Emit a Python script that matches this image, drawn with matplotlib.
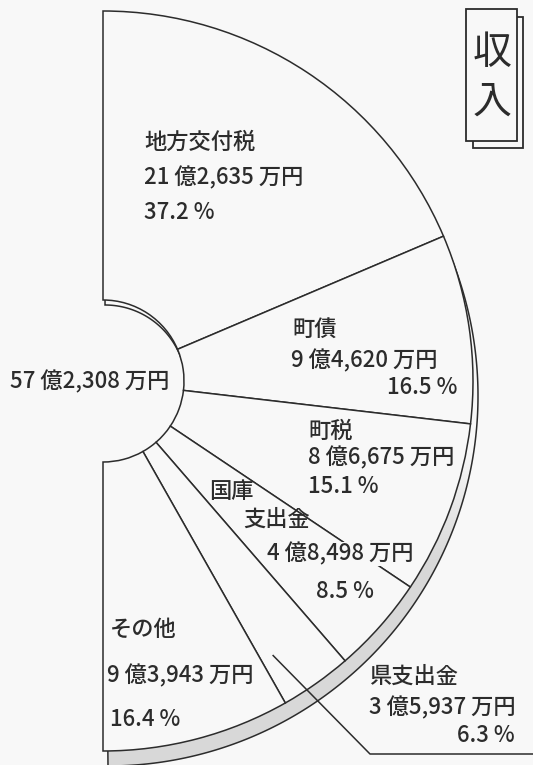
import numpy as np
import matplotlib.pyplot as plt
from matplotlib.patches import Wedge, Polygon, Rectangle

plt.rcParams['font.family'] = ['Noto Sans CJK JP', 'DejaVu Sans']

# data (revenue breakdown)
categories = ['地方交付税', '町債', '町税', '国庫支出金', '県支出金', 'その他']
amount_oku = [21, 9, 8, 4, 3, 9]
amount_man = [2635, 4620, 6675, 8498, 5937, 3943]
shares = [37.2, 16.5, 15.1, 8.5, 6.3, 16.4]
title = '収入'


def yen(oku, man):
    return f'{oku} 億{man:,} 万円'


total = sum(amount_oku) * 10000 + sum(amount_man)
total_label = yen(total // 10000, total % 10000)

INK = '#2c2c2c'
BG = '#f8f8f8'
W, H = 533, 765
cx, cy = 103, 384
R_OUT, R_IN = 370, 81

# label layout, image pixel coords (x, y from top)
name_split = [None, None, None, 2, None, None]
name_pos = [[(144, 142)], [(292, 329)], [(308, 431)], [(209, 491), (243, 519)],
            [(369, 676)], [(110, 629)]]
amount_pos = [(144, 178, 'left'), (291, 361, 'left'), (308, 458, 'left'),
              (267, 554, 'left'), (369, 708, 'left'), (107, 676, 'left')]
pct_pos = [(144, 212, 'left'), (457, 387, 'right'), (308, 486, 'left'),
           (316, 591, 'left'), (515, 735, 'right'), (110, 720, 'left')]
FS = 16
TXT = dict(fontsize=FS, color=INK, fontweight='medium', va='center', zorder=5)

fig = plt.figure(figsize=(W / 100, H / 100), dpi=100, facecolor=BG)
ax = fig.add_axes([0, 0, 1, 1])
ax.set_facecolor(BG)

edges = 90 - np.cumsum([0] + shares) / 100 * 180

# drop shadow under the half ring
t = np.linspace(np.pi / 2, -np.pi / 2, 300)
outer_sh = np.column_stack([cx + 5 + R_OUT * np.cos(t), cy - 15 + R_OUT * np.sin(t)])
inner_sh = np.column_stack([cx + 2 + R_IN * np.cos(t[::-1]), cy - 5 + R_IN * np.sin(t[::-1])])
shadow = Polygon(np.vstack([outer_sh, inner_sh]), closed=True, facecolor='none',
                 edgecolor=INK, lw=1.1, zorder=1)
ax.add_patch(shadow)
yy = np.arange(H)
lev = np.clip((315 - yy) / 110, 0, 1)
grey = 0.973 - lev * (0.973 - 0.85)
rgb = np.repeat(np.repeat(grey[:, None, None], 3, axis=2), 2, axis=1)
im = ax.imshow(rgb, extent=(0, W, 0, H), origin='lower', aspect='auto', zorder=0.9)
im.set_clip_path(shadow)

for i in range(len(categories)):
    ax.add_patch(Wedge((cx, cy), R_OUT, edges[i + 1], edges[i], width=R_OUT - R_IN,
                       facecolor=BG, edgecolor=INK, lw=1.1, zorder=2))

for i, cat in enumerate(categories):
    k = name_split[i]
    parts = [cat] if k is None else [cat[:k], cat[k:]]
    for s, (x, y) in zip(parts, name_pos[i]):
        ax.text(x, H - y, s, ha='left', **TXT)
    x, y, ha = amount_pos[i]
    box = dict(facecolor=BG, edgecolor='none', pad=0.5) if i == 3 else None
    ax.text(x, H - y, yen(amount_oku[i], amount_man[i]), ha=ha, bbox=box, **TXT)
    x, y, ha = pct_pos[i]
    ax.text(x, H - y, f'{shares[i]} %', ha=ha, **TXT)

ax.text(10, H - 382, total_label, ha='left', **TXT)

# leader for 県支出金
a = np.deg2rad(edges[4] + 0.8 * (edges[5] - edges[4]))
lx = [cx + 0.873 * R_OUT * np.cos(a), 370, W]
ly = [cy + 0.873 * R_OUT * np.sin(a), H - 754, H - 754]
ax.plot(lx, ly, color=INK, lw=1.1, zorder=6)

# title box
ax.add_patch(Rectangle((473, H - 148), 50, 131, facecolor=BG, edgecolor=INK, lw=1.3, zorder=3))
ax.add_patch(Rectangle((466, H - 141), 51, 132, facecolor=BG, edgecolor=INK, lw=1.3, zorder=4))
ax.text(492, H - 53, title[0], fontsize=28, color=INK, ha='center', va='center', zorder=5)
ax.text(492, H - 102, title[1], fontsize=28, color=INK, ha='center', va='center', zorder=5)

ax.set_xlim(0, W)
ax.set_ylim(0, H)
ax.axis('off')
fig.savefig('out.png', dpi=100, facecolor=BG)
